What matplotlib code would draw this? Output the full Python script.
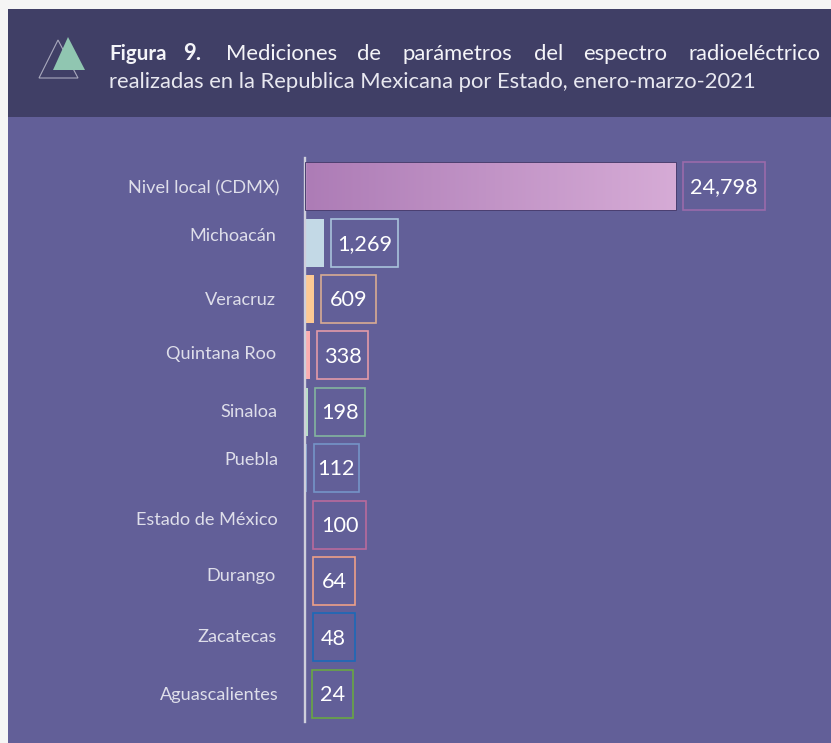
import matplotlib
matplotlib.use('Agg')
import matplotlib.pyplot as plt
import numpy as np
from matplotlib.patches import Rectangle, Polygon

plt.rcParams['font.family'] = ['Lato', 'DejaVu Sans']

states = ['Nivel local (CDMX)', 'Michoacán', 'Veracruz', 'Quintana Roo', 'Sinaloa',
          'Puebla', 'Estado de México', 'Durango', 'Zacatecas', 'Aguascalientes']
values = [24798, 1269, 609, 338, 198, 112, 100, 64, 48, 24]
value_labels = ['24,798', '1,269', '609', '338', '198', '112', '100', '64', '48', '24']
bar_colors = ['#c096c6', '#c3d9e6', '#fdc994', '#fbadb0', '#b9e0c6',
              '#7f9bc9', '#e8a8bd', '#f4a58a', '#1f6bb8', '#6aa845']
box_colors = ['#9a6bab', '#a9c3dc', '#d8ab92', '#e39aa8', '#83b59f',
              '#7594c8', '#b96a9c', '#ee9f88', '#1c69b8', '#69a742']
box_widths = [82, 67, 55, 51, 50, 45, 53, 42, 42, 41]
# the state names do not sit quite on the bar centres in the original
label_nudge = [2, -7, 1, -1, 0, -8, -5, -5, 0, 1]
label_right = [279, 276, 276, 276, 277, 278, 278, 276, 277, 279]

W, H = 831, 743
BG = '#625f98'
HEADER = '#403f66'

fig = plt.figure(figsize=(W / 100, H / 100), dpi=100, facecolor='#f5f5f5')

# pixel canvas for the panels, the title and the icon
bg = fig.add_axes([0, 0, 1, 1])
bg.set_xlim(0, W)
bg.set_ylim(H, 0)
bg.axis('off')
bg.add_patch(Rectangle((8, 9), W - 8, H - 9, fc=BG, ec='none'))
bg.add_patch(Rectangle((8, 9), W - 8, 108, fc=HEADER, ec='none'))
bg.add_patch(Polygon([(39, 78), (78, 78), (58, 40)], closed=True, fc='none', ec='#a9a9bd', lw=0.8))
bg.add_patch(Polygon([(53, 70), (85, 70), (68, 37)], closed=True, fc='#90c6b1', ec='none'))

# first title line is justified, so each word goes in by hand
words = [('Figura', 109, 'bold', 14.8), ('9.', 183, 'bold', 15.8), ('Mediciones', 226, 'normal', 15.8),
         ('de', 357, 'normal', 15.8), ('parámetros', 402, 'normal', 15.8), ('del', 534, 'normal', 15.8),
         ('espectro', 583, 'normal', 15.8), ('radioeléctrico', 688, 'normal', 15.8)]
for word, x, weight, size in words:
    bg.text(x, 54, word, color='#f4f4f8', fontsize=size, fontweight=weight, va='center', ha='left')
bg.text(109, 82, 'realizadas en la Republica Mexicana por Estado, enero-marzo-2021',
        color='#e8e8f0', fontsize=15.8, va='center', ha='left')

# chart axes: 371 px of bar = 24,798
left, right, top, bottom = 305, W, 158, 722
ax = fig.add_axes([left / W, 1 - bottom / H, (right - left) / W, (bottom - top) / H])
ax.patch.set_alpha(0)
xmax = values[0] * (right - left) / 371
px = xmax / (right - left)
ypos = np.arange(len(states))

bars = ax.barh(ypos, values, height=0.85, color=bar_colors, edgecolor='none')

# the top bar has a left-to-right fade
grad = np.linspace(0, 1, 256).reshape(1, -1)
cmap = matplotlib.colors.LinearSegmentedColormap.from_list('fade', ['#ad7cb6', '#d6abd6'])
im = ax.imshow(grad, cmap=cmap, aspect='auto', extent=(0, values[0], 0.425, -0.425), zorder=2)
im.set_clip_path(bars[0])
ax.add_patch(Rectangle((0, -0.425), values[0], 0.85, fc='none', ec='#4b3f70', lw=0.7, zorder=3))

for i, (v, lab) in enumerate(zip(values, value_labels)):
    x0 = v + 7 * px
    w = box_widths[i] * px
    ax.add_patch(Rectangle((x0, i - 0.425), w, 0.85, fc='none', ec=box_colors[i], lw=1.2, zorder=3))
    ax.text(x0 + w / 2, i + 0.02, lab, color='white', fontsize=15.6,
            ha='center', va='center', zorder=4)
    bg.text(label_right[i], top + (i + 0.5) * 56.4 + label_nudge[i], states[i], color='#dedeea',
            fontsize=13.1, ha='right', va='center')

ax.set_xlim(0, xmax)
ax.set_ylim(len(states) - 0.5, -0.5)
ax.set_xticks([])
ax.set_yticks([])
for side in ['top', 'right', 'bottom']:
    ax.spines[side].set_visible(False)
ax.spines['left'].set_color('#cfcfdc')
ax.spines['left'].set_linewidth(1.7)
ax.set_zorder(2)

fig.savefig('out.png', dpi=100, facecolor=fig.get_facecolor())
